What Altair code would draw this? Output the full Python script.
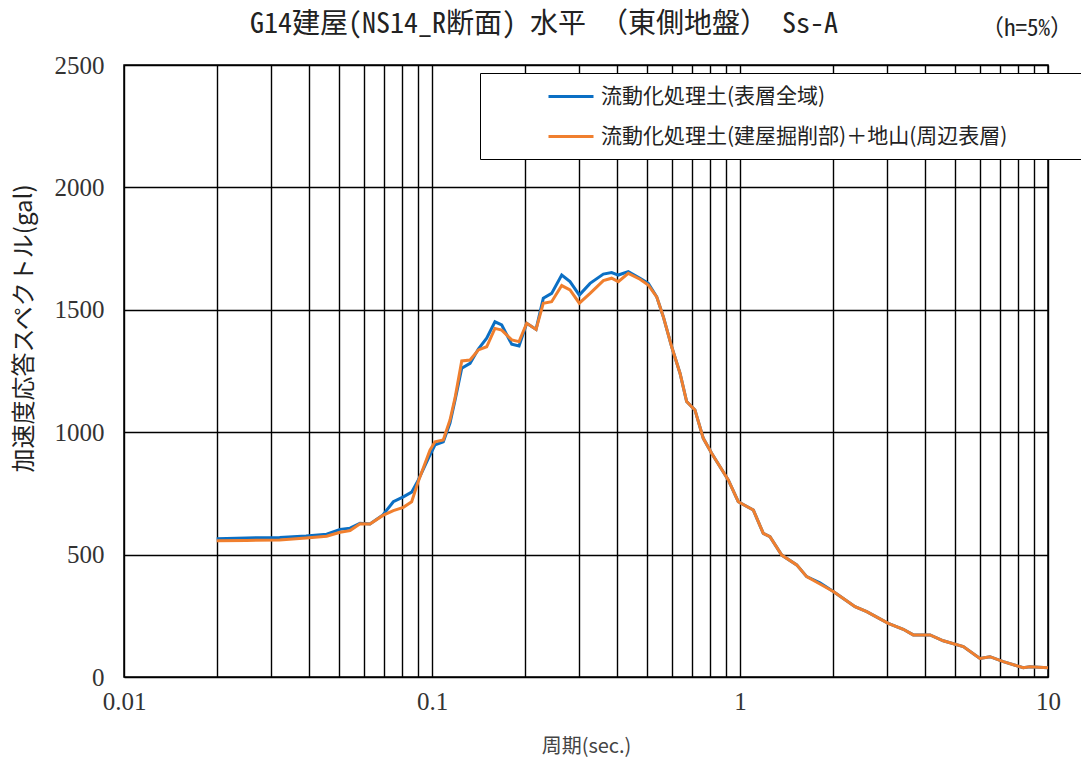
import altair as alt
import pandas as pd

# Periods (sec) and spectral accelerations (gal)
periods = [0.020, 0.025, 0.032, 0.039, 0.0455, 0.0503, 0.0542, 0.0584, 0.0629, 0.0693,
           0.0749, 0.0807, 0.0859, 0.0903, 0.0985, 0.1023, 0.1088, 0.1144, 0.1188, 0.1249,
           0.1329, 0.1414, 0.1505, 0.1601, 0.1684, 0.1815, 0.1917, 0.2030, 0.2177, 0.2298,
           0.2446, 0.2637, 0.2806, 0.3008, 0.326, 0.360, 0.383, 0.4027, 0.4338, 0.4735,
           0.5038, 0.5365, 0.5636, 0.600, 0.6386, 0.671, 0.714, 0.760, 0.809, 0.916,
           0.987, 1.105, 1.190, 1.251, 1.366, 1.528, 1.646, 1.818, 2.009, 2.165,
           2.363, 2.579, 3.030, 3.390, 3.652, 4.14, 4.57, 5.31, 6.01, 6.48,
           7.16, 8.31, 8.74, 10.0]

blue_vals = [565, 568, 570, 576, 583, 603, 608, 628, 625, 662,
             716, 736, 755, 805, 907, 948, 961, 1037, 1131, 1261,
             1281, 1340, 1384, 1451, 1438, 1359, 1352, 1445, 1420, 1547,
             1567, 1642, 1615, 1560, 1608, 1646, 1652, 1642, 1656, 1629,
             1608, 1553, 1472, 1349, 1241, 1125, 1091, 975, 914, 805,
             716, 682, 587, 573, 498, 458, 410, 385, 349, 321,
             287, 267, 219, 195, 172, 172, 148, 124, 76, 83,
             63, 38, 42, 38]

orange_vals = [557, 558, 560, 568, 575, 591, 598, 626, 625, 660,
               680, 693, 716, 800, 927, 961, 968, 1050, 1140, 1291,
               1295, 1336, 1349, 1424, 1417, 1377, 1370, 1445, 1420, 1527,
               1533, 1599, 1581, 1527, 1567, 1619, 1629, 1615, 1649, 1625,
               1601, 1553, 1472, 1349, 1241, 1125, 1091, 975, 914, 805,
               716, 682, 587, 573, 498, 458, 410, 380, 349, 321,
               287, 267, 219, 195, 172, 172, 148, 124, 76, 83,
               63, 38, 42, 38]

series_names = ["流動化処理土(表層全域)", "流動化処理土(建屋掘削部)＋地山(周辺表層)"]
series_colors = ["#0B6FC4", "#F07F2E"]

title_text = "G14建屋(NS14_R断面) 水平　（東側地盤）　Ss-A"
note_text = "（h=5%）"

x_grid = [round(m * d, 10) for d in (0.01, 0.1, 1.0) for m in range(1, 10)] + [10.0]
y_ticks = [0, 500, 1000, 1500, 2000, 2500]

rows = []
for name, vals in zip(series_names, [blue_vals, orange_vals]):
    for p, v in zip(periods, vals):
        rows.append({"period": p, "value": v, "series": name})
df = pd.DataFrame(rows)

color = alt.Color(
    "series:N",
    scale=alt.Scale(domain=series_names, range=series_colors),
    legend=alt.Legend(
        title="\u3000", titleOrient="right", titlePadding=90, titleFontSize=20,
        orient="none", legendX=356, legendY=8,
        strokeColor="black", fillColor="white", padding=12,
        symbolType="M4.5,0H9", symbolStrokeWidth=3, symbolSize=400,
        labelFont="Noto Sans CJK JP", labelFontSize=21, labelColor="#222222",
        labelOffset=86, rowPadding=18, labelLimit=800,
    ),
)

x = alt.X(
    "period:Q",
    scale=alt.Scale(type="log", domain=[0.01, 10], nice=False),
    axis=alt.Axis(
        values=x_grid, title="周期(sec.)", ticks=False, domain=False,
        grid=True, gridColor="black", gridWidth=1.4, gridOpacity=1,
        labelExpr="abs(log(datum.value)/LN10 - round(log(datum.value)/LN10)) < 1e-6 ? toString(datum.value) : ''",
        labelFlush=False,
        labelFont="Liberation Serif", labelFontSize=25, labelColor="#333333", labelPadding=12,
        titleFont="Noto Sans CJK JP", titleFontSize=20, titleFontWeight="normal",
        titleColor="#444444", titlePadding=22,
    ),
)
y = alt.Y(
    "value:Q",
    scale=alt.Scale(domain=[0, 2500], nice=False),
    axis=alt.Axis(
        values=y_ticks, format="d", title="加速度応答スペクトル(gal)", ticks=False, domain=False,
        grid=True, gridColor="black", gridWidth=1.4, gridOpacity=1,
        labelFont="Liberation Serif", labelFontSize=25, labelColor="#333333", labelPadding=20,
        titleFont="Noto Sans CJK JP", titleFontSize=24, titleFontWeight="normal",
        titleColor="#222222", titleX=-100, titleY=263, titleAlign="center",
        titleBaseline="middle", titleAngle=270,
    ),
)

base = alt.Chart(df)
blue_line = base.transform_filter(alt.datum.series == series_names[0]).mark_line(strokeWidth=3).encode(x=x, y=y, color=color)
orange_line = base.transform_filter(alt.datum.series == series_names[1]).mark_line(strokeWidth=3).encode(x=x, y=y, color=color)

title_mark = alt.Chart(pd.DataFrame({"t": [title_text]})).mark_text(
    font="Noto Sans Mono CJK JP, Noto Sans CJK JP", fontSize=28, color="#222222",
    align="center", baseline="middle"
).encode(text="t:N", x=alt.value(420), y=alt.value(-40))

note = alt.Chart(pd.DataFrame({"t": [note_text]})).mark_text(
    font="Noto Sans Mono CJK JP, Noto Sans CJK JP", fontSize=23, color="#222222",
    align="center", baseline="middle"
).encode(text="t:N", x=alt.value(903), y=alt.value(-36))

chart = alt.layer(blue_line, orange_line, title_mark, note).properties(
    width=924, height=612,
    autosize=alt.AutoSizeParams(type="none"),
    padding={"left": 116, "top": 57, "right": 33, "bottom": 84},
).configure_view(stroke="black", strokeWidth=1.5)

chart.save("out.html", embed_options={"renderer": "svg", "actions": False})
